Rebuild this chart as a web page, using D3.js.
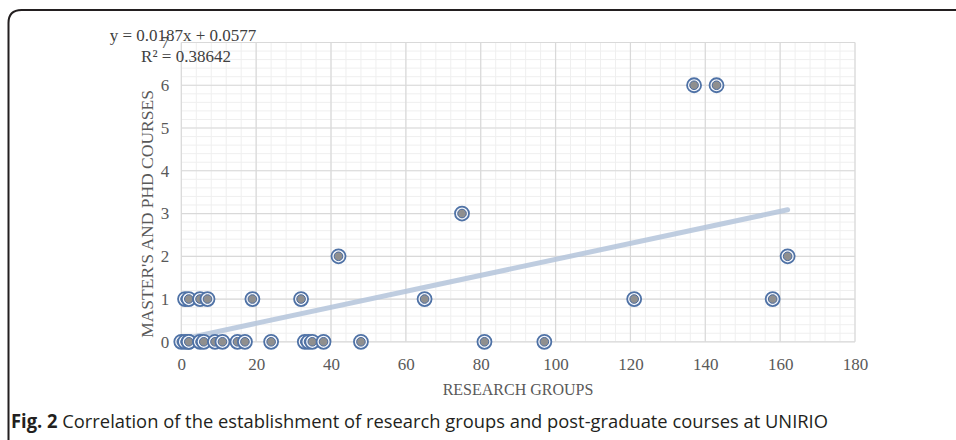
<!DOCTYPE html>
<html>
<head>
<meta charset="utf-8">
<script src="https://cdn.jsdelivr.net/npm/d3@7"></script>
<style>
  body { margin: 0; background: #fff; }
  svg { display: block; }
</style>
</head>
<body>
<div id="chart"></div>
<script>
const width = 956;
const height = 440;

// research groups (x) and master's/PhD courses (y) per unit
const researchGroups = [0, 1, 2, 2, 5, 6, 9, 11, 15, 17, 24, 33, 34, 35, 38, 48, 81, 97,
                        1, 2, 5, 7, 19, 32, 65, 121, 158,
                        42, 162, 75, 137, 143];
const courses = [0, 0, 0, 0, 0, 0, 0, 0, 0, 0, 0, 0, 0, 0, 0, 0, 0, 0,
                 1, 1, 1, 1, 1, 1, 1, 1, 1,
                 2, 2, 3, 6, 6];
const xTicks = [0, 20, 40, 60, 80, 100, 120, 140, 160, 180];
const yTicks = [0, 1, 2, 3, 4, 5, 6, 7];
const slope = 0.0187;
const intercept = 0.0577;
const rSquared = "0.38642";

const points = researchGroups.map((x, i) => ({ x, y: courses[i] }));

const x = d3.scaleLinear().domain([0, 180]).range([181.3, 855]);
const y = d3.scaleLinear().domain([0, 7]).range([341.8, 42.5]);

const svg = d3.select("#chart").append("svg")
    .attr("width", width)
    .attr("height", height);

// frame with rounded corner
svg.append("path")
    .attr("d", "M8.5,440 L8.5,23 Q8.5,10 21.5,10 L956,10")
    .attr("fill", "none")
    .attr("stroke", "#231f20")
    .attr("stroke-width", 2);

// minor grid
const minorX = d3.range(0, 180.01, 4);
const minorY = d3.range(0, 7.01, 0.2);
svg.append("g").selectAll("line")
    .data(minorX)
    .join("line")
    .attr("x1", d => x(d)).attr("x2", d => x(d))
    .attr("y1", y(0)).attr("y2", y(7))
    .attr("stroke", "#efefef").attr("stroke-width", 1);
svg.append("g").selectAll("line")
    .data(minorY)
    .join("line")
    .attr("x1", x(0)).attr("x2", x(180))
    .attr("y1", d => y(d)).attr("y2", d => y(d))
    .attr("stroke", "#efefef").attr("stroke-width", 1);

// major grid
svg.append("g").selectAll("line")
    .data(xTicks)
    .join("line")
    .attr("x1", d => x(d)).attr("x2", d => x(d))
    .attr("y1", y(0)).attr("y2", y(7))
    .attr("stroke", "#d9d9d9").attr("stroke-width", 1.2);
svg.append("g").selectAll("line")
    .data(yTicks)
    .join("line")
    .attr("x1", x(0)).attr("x2", x(180))
    .attr("y1", d => y(d)).attr("y2", d => y(d))
    .attr("stroke", "#d9d9d9").attr("stroke-width", 1.2);

// axes (labels only)
const xAxis = svg.append("g")
    .attr("transform", `translate(0,${y(0)})`)
    .call(d3.axisBottom(x).tickValues(xTicks).tickFormat(d3.format("d")).tickSize(0).tickPadding(16));
const yAxis = svg.append("g")
    .attr("transform", `translate(${x(0)},0)`)
    .call(d3.axisLeft(y).tickValues(yTicks).tickFormat(d3.format("d")).tickSize(0).tickPadding(12));
[xAxis, yAxis].forEach(g => {
    g.select(".domain").remove();
    g.selectAll("text")
        .attr("font-family", "'Liberation Serif', 'DejaVu Serif', serif")
        .attr("font-size", 17)
        .attr("fill", "#595959");
});

// trendline
const xMin = d3.min(researchGroups), xMax = d3.max(researchGroups);
svg.append("line")
    .attr("x1", x(xMin)).attr("y1", y(slope * xMin + intercept))
    .attr("x2", x(xMax)).attr("y2", y(slope * xMax + intercept))
    .attr("stroke", "#b4c4da")
    .attr("stroke-opacity", 0.85)
    .attr("stroke-width", 5)
    .attr("stroke-linecap", "round");

// markers
const marks = svg.append("g").selectAll("g")
    .data(points)
    .join("g")
    .attr("transform", d => `translate(${x(d.x)},${y(d.y)})`);
marks.append("circle")
    .attr("r", 7)
    .attr("fill", "#f4f6fa")
    .attr("stroke", "#4f72a6")
    .attr("stroke-width", 1.8);
marks.append("circle")
    .attr("r", 4.3)
    .attr("fill", "#8f8f8f")
    .attr("stroke", "#4a6a9c")
    .attr("stroke-width", 1);

// axis titles
svg.append("text")
    .attr("x", 518).attr("y", 395)
    .attr("text-anchor", "middle")
    .attr("font-family", "'Liberation Serif', serif")
    .attr("font-size", 16)
    .attr("fill", "#595959")
    .text("RESEARCH GROUPS");
svg.append("text")
    .attr("transform", "translate(153,214) rotate(-90)")
    .attr("text-anchor", "middle")
    .attr("font-family", "'Liberation Serif', serif")
    .attr("font-size", 17.5)
    .attr("fill", "#595959")
    .text("MASTER'S AND PHD COURSES");

// regression label
svg.append("text")
    .attr("x", 183).attr("y", 41)
    .attr("text-anchor", "middle")
    .attr("font-family", "'Liberation Serif', serif")
    .attr("font-size", 17)
    .attr("fill", "#404040")
    .text(`y = ${slope}x + ${intercept}`);
svg.append("text")
    .attr("x", 186).attr("y", 62)
    .attr("text-anchor", "middle")
    .attr("font-family", "'Liberation Serif', serif")
    .attr("font-size", 17)
    .attr("fill", "#404040")
    .text(`R² = ${rSquared}`);

// caption
const caption = svg.append("text")
    .attr("x", 11).attr("y", 428)
    .attr("font-family", "'Open Sans', 'Noto Sans', sans-serif")
    .attr("font-size", 19)
    .attr("fill", "#231f20")
    .attr("textLength", 817)
    .attr("lengthAdjust", "spacingAndGlyphs");
caption.append("tspan").attr("font-weight", "bold").text("Fig. 2");
caption.append("tspan").text(" Correlation of the establishment of research groups and post-graduate courses at UNIRIO");
</script>
</body>
</html>
